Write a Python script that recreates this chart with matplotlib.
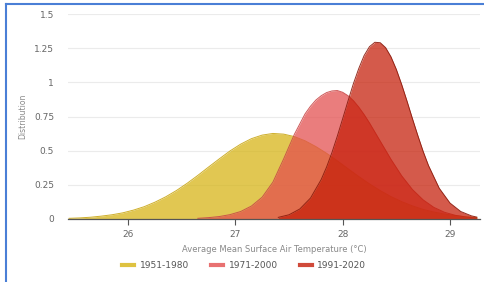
import numpy as np
import matplotlib
matplotlib.use('Agg')
import matplotlib.pyplot as plt
from matplotlib.lines import Line2D

# period labels
periodos = ['1951-1980', '1971-2000', '1991-2020']

# temperature (°C) and density
temp_1951 = [25.45, 25.55, 25.65, 25.75, 25.85, 25.95, 26.05, 26.15, 26.25, 26.35,
             26.45, 26.55, 26.65, 26.75, 26.85, 26.95, 27.05, 27.15, 27.25, 27.35,
             27.45, 27.55, 27.65, 27.75, 27.85, 27.95, 28.05, 28.15, 28.25, 28.35,
             28.45, 28.55, 28.65, 28.75, 28.85, 28.95, 29.05, 29.15, 29.25]
dens_1951 = [0.005, 0.008, 0.013, 0.021, 0.031, 0.045, 0.065, 0.090, 0.123, 0.162,
             0.208, 0.261, 0.319, 0.380, 0.440, 0.498, 0.548, 0.588, 0.614, 0.626,
             0.621, 0.603, 0.572, 0.530, 0.481, 0.426, 0.368, 0.311, 0.257, 0.208,
             0.164, 0.127, 0.096, 0.070, 0.051, 0.036, 0.025, 0.016, 0.011]

temp_1971 = [26.65, 26.75, 26.85, 26.95, 27.05, 27.15, 27.25, 27.35, 27.45, 27.55,
             27.65, 27.70, 27.75, 27.80, 27.85, 27.90, 27.95, 28.00, 28.05, 28.10,
             28.15, 28.20, 28.25, 28.35, 28.45, 28.55, 28.65, 28.75, 28.85, 28.95,
             29.05, 29.15, 29.25]
dens_1971 = [0.005, 0.010, 0.018, 0.032, 0.055, 0.095, 0.160, 0.270, 0.440, 0.620,
             0.770, 0.825, 0.870, 0.902, 0.925, 0.937, 0.940, 0.927, 0.902, 0.866,
             0.819, 0.764, 0.703, 0.570, 0.437, 0.316, 0.216, 0.140, 0.085, 0.049,
             0.027, 0.014, 0.007]

temp_1991 = [27.40, 27.50, 27.60, 27.70, 27.80, 27.85, 27.90, 27.95, 28.00, 28.05,
             28.10, 28.15, 28.20, 28.25, 28.30, 28.35, 28.40, 28.45, 28.50, 28.55,
             28.60, 28.65, 28.70, 28.75, 28.80, 28.90, 29.00, 29.10, 29.20, 29.25]
dens_1991 = [0.012, 0.031, 0.073, 0.153, 0.289, 0.380, 0.486, 0.606, 0.734, 0.864,
             0.990, 1.101, 1.196, 1.261, 1.293, 1.290, 1.254, 1.187, 1.095, 0.984,
             0.862, 0.735, 0.612, 0.495, 0.391, 0.225, 0.117, 0.055, 0.023, 0.014]

y_ticks = [0, 0.25, 0.5, 0.75, 1, 1.25, 1.5]
y_tick_labels = ['0', '0.25', '0.5', '0.75', '1', '1.25', '1.5']
x_ticks = [26, 27, 28, 29]

cores = ['#d6b312', '#e34d4d', '#c51d08']
bordas = ['#c9a614', '#c84848', '#8a1a0c']

fig = plt.figure(figsize=(4.84, 2.82), dpi=100)
ax = fig.add_axes([68 / 484, 1 - 219 / 282, (480 - 68) / 484, (219 - 14) / 282])

series = [(temp_1951, dens_1951), (temp_1971, dens_1971), (temp_1991, dens_1991)]
for i, ((t, d), cor, borda) in enumerate(zip(series, cores, bordas)):
    ax.fill_between(t, 0, d, color=cor, alpha=0.73, linewidth=0, zorder=2 + 2 * i)
    ax.plot(t, d, color=borda, linewidth=0.7, alpha=0.9, zorder=3 + 2 * i)

ax.set_xlim(25.44, 29.28)
ax.set_ylim(0, 1.5)
ax.set_yticks(y_ticks)
ax.set_yticklabels(y_tick_labels)
ax.set_xticks(x_ticks)
ax.grid(axis='y', color='#ebebeb', linewidth=0.8, zorder=0)
ax.set_axisbelow(True)
for lado in ['top', 'right', 'left']:
    ax.spines[lado].set_visible(False)
ax.spines['bottom'].set_color('#555555')
ax.spines['bottom'].set_linewidth(0.9)
ax.spines['bottom'].set_zorder(10)
ax.tick_params(axis='y', length=0, pad=10, labelsize=6.5, labelcolor='#666666')
ax.tick_params(axis='x', length=4, width=0.8, color='#555555', pad=4,
               labelsize=6.5, labelcolor='#666666')

ax.set_xlabel('Average Mean Surface Air Temperature (°C)', fontsize=6,
              color='#888888', labelpad=4)
ax.set_ylabel('Distribution', fontsize=5.5, color='#888888', labelpad=5)

handles = [Line2D([0], [0], color=c, alpha=0.8, linewidth=3) for c in cores]
fig.legend(handles, periodos, loc='center', bbox_to_anchor=(0.505, 1 - 266 / 282),
           ncol=3, frameon=False, fontsize=6.5, handlelength=1.3,
           columnspacing=2.5, handletextpad=0.6, labelcolor='#555555')

# blue screenshot border
fig.add_artist(Line2D([6 / 484, 6 / 484], [0, 1 - 4 / 282], color='#4a7fd6',
                      linewidth=1.5, transform=fig.transFigure))
fig.add_artist(Line2D([6 / 484, 1], [1 - 4 / 282, 1 - 4 / 282], color='#4a7fd6',
                      linewidth=1.5, transform=fig.transFigure))

fig.savefig('out.png', dpi=100)
